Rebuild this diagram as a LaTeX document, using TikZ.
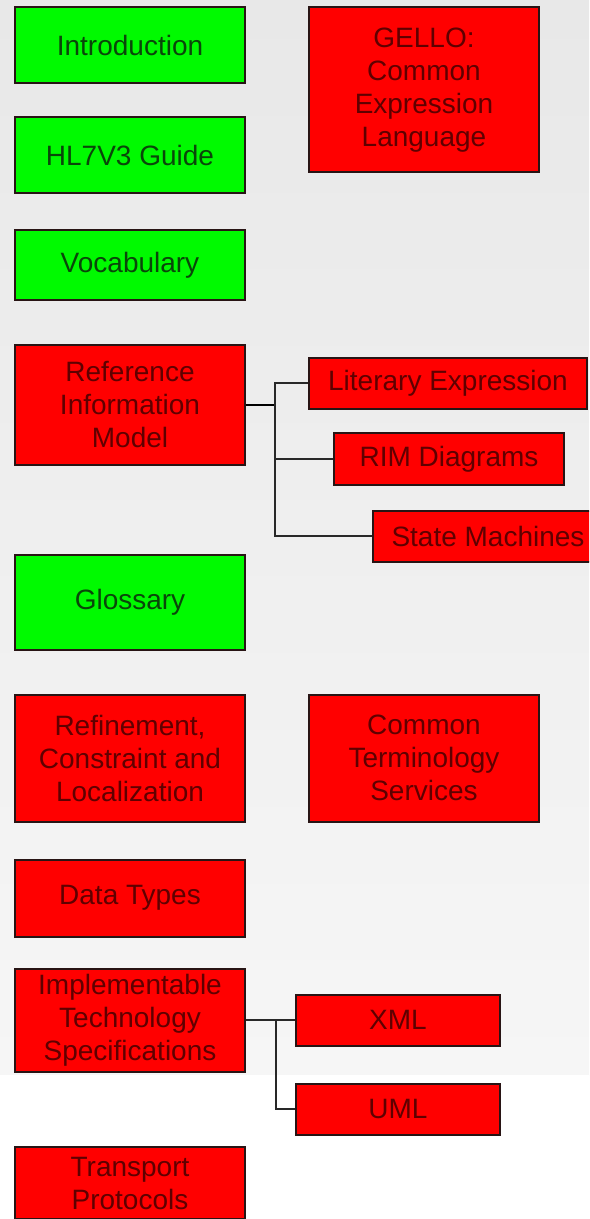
\documentclass[tikz,border=0pt]{standalone}
\usepackage{fontspec}
\setmainfont{Liberation Sans}
\definecolor{bgtop}{RGB}{232,232,232}
\definecolor{bgbot}{RGB}{246,246,246}
\definecolor{boxred}{RGB}{255,0,0}
\definecolor{boxgreen}{RGB}{0,250,0}
\definecolor{redtext}{RGB}{95,0,0}
\definecolor{greentext}{RGB}{10,70,10}
\definecolor{edge}{RGB}{40,20,20}
\definecolor{wire}{RGB}{40,40,40}
\tikzset{
  x=0.5pt, y=-0.5pt,
  box/.style={draw=edge, line width=1pt, rectangle, inner sep=0pt, align=center,
    font=\fontsize{14}{16.5}\selectfont},
  redbox/.style={box, fill=boxred, text=redtext},
  greenbox/.style={box, fill=boxgreen, text=greentext},
  wire/.style={draw=wire, line width=1pt}
}
\begin{document}
\begin{tikzpicture}
\useasboundingbox (0,0) rectangle (589,1219);
\clip (0,0) rectangle (589,1219);
\shade[top color=bgtop, bottom color=bgbot] (0,0) rectangle (589,1075);
\fill[white] (0,1075) rectangle (589,1219);

\node[greenbox, minimum width=115pt, minimum height=38pt] (intro) at (130,45) {Introduction};
\node[greenbox, minimum width=115pt, minimum height=38pt] (guide) at (130,155) {HL7V3 Guide};
\node[greenbox, minimum width=115pt, minimum height=35pt] (vocab) at (130,265) {Vocabulary};
\node[redbox, minimum width=115pt, minimum height=60pt] (rim) at (130,405) {Reference\\Information\\Model};
\node[greenbox, minimum width=115pt, minimum height=47.5pt] (gloss) at (130,602) {Glossary};
\node[redbox, minimum width=115pt, minimum height=63.5pt] (refine) at (130,758) {Refinement,\\Constraint and\\Localization};
\node[redbox, minimum width=115pt, minimum height=38.5pt] (types) at (130,898) {Data Types};
\node[redbox, minimum width=115pt, minimum height=51.5pt] (its) at (130,1020) {Implementable\\Technology\\Specifications};
\node[redbox, minimum width=115pt, minimum height=36pt, text depth=0pt] (transport) at (130,1183) {Transport\\Protocols};

\node[redbox, minimum width=115pt, minimum height=82.5pt] (gello) at (424,90) {GELLO:\\Common\\Expression\\Language};
\node[redbox, minimum width=139pt, minimum height=25.5pt] (lit) at (448,383) {Literary Expression};
\node[redbox, minimum width=115pt, minimum height=26pt] (rimd) at (449,459) {RIM Diagrams};
\node[redbox, minimum width=115pt, minimum height=25.5pt] (state) at (488,536) {State Machines};
\node[redbox, minimum width=115pt, minimum height=63.5pt] (cts) at (424,758) {Common\\Terminology\\Services};
\node[redbox, minimum width=102pt, minimum height=25.5pt] (xml) at (398,1020) {XML};
\node[redbox, minimum width=102pt, minimum height=25.5pt] (uml) at (398,1109) {UML};

\coordinate (rj) at (275,405);
\coordinate (ij) at (276,1020);
\draw[wire, line width=1.3pt, draw=black] (rim.east) -- (rj);
\draw[wire] (lit.west) -| (rj) |- (state.west);
\draw[wire] (rimd.west) -- (rimd.west -| rj);
\draw[wire] (its.east) -- (xml.west);
\draw[wire] (ij) |- (uml.west);
\end{tikzpicture}
\end{document}
